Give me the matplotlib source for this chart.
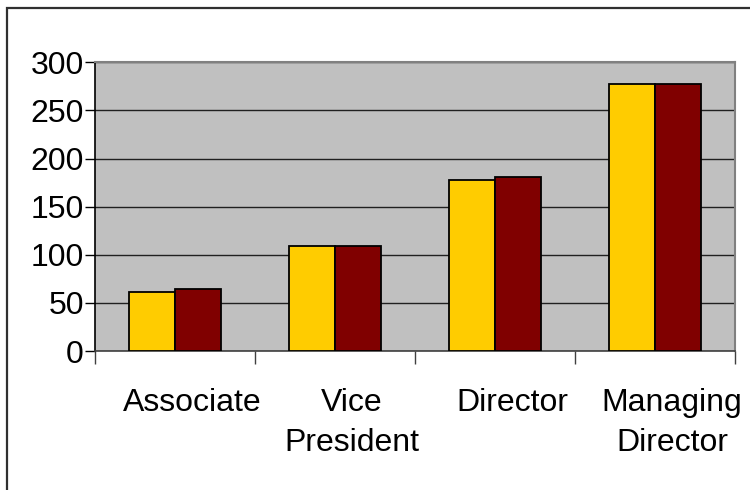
import matplotlib
matplotlib.use("Agg")
import matplotlib.pyplot as plt
import matplotlib.transforms as mtransforms
from matplotlib.patches import Rectangle
import numpy as np

categories = ["Associate", "Vice\nPresident", "Director", "Managing\nDirector"]
series_a = [61, 109, 178, 277]
series_b = [64, 109, 181, 277]
yticks = [0, 50, 100, 150, 200, 250, 300]

plt.rcParams['font.family'] = ['Liberation Sans', 'DejaVu Sans']

fig = plt.figure(figsize=(7.5, 4.9), dpi=100)
fig.patches.append(Rectangle((7/750, -0.1), 1.2, 1 - 8/490 + 0.1, transform=fig.transFigure,
                             fill=False, edgecolor='#303030', linewidth=1.6, zorder=0))

ax = fig.add_axes([95/750, 1 - 351/490, 640/750, (351 - 62.3)/490])
ax.set_facecolor('#C0C0C0')

x = np.arange(len(categories))
w = 0.2875
ax.bar(x - w/2, series_a, width=w, color='#FFCC00', edgecolor='black', linewidth=1.3, zorder=3)
ax.bar(x + w/2, series_b, width=w, color='#800000', edgecolor='black', linewidth=1.3, zorder=3)

ax.set_xlim(-0.5, len(categories) - 0.5)
ax.set_ylim(0, 300)
ax.set_yticks(yticks)
ax.set_yticklabels([str(v) for v in yticks], fontsize=23)
ax.yaxis.grid(True, color='#202020', linewidth=1.0, zorder=1)
ax.set_axisbelow(True)

ax.set_xticks(np.arange(len(categories) + 1) - 0.5)
ax.set_xticklabels([])
ax.tick_params(axis='x', length=9, width=1, color='#404040', direction='out')
ax.tick_params(axis='y', length=7, width=1, color='black', direction='out', pad=1)

offset = mtransforms.ScaledTranslation(17/100, 0, fig.dpi_scale_trans)
trans = mtransforms.blended_transform_factory(ax.transData, ax.transAxes) + offset
ax_h = 351 - 62.3
for i, c in enumerate(categories):
    for k, line in enumerate(c.split("\n")):
        ax.text(i, -(60 + 40 * k) / ax_h, line, transform=trans,
                ha='center', va='baseline', fontsize=23)

for s in ['top', 'right']:
    ax.spines[s].set_color('#808080')
    ax.spines[s].set_linewidth(1.5)
ax.spines['left'].set_color('black')
ax.spines['left'].set_linewidth(1.2)
ax.spines['bottom'].set_color('#404040')
ax.spines['bottom'].set_linewidth(1.2)

fig.savefig("out.png", dpi=100)
